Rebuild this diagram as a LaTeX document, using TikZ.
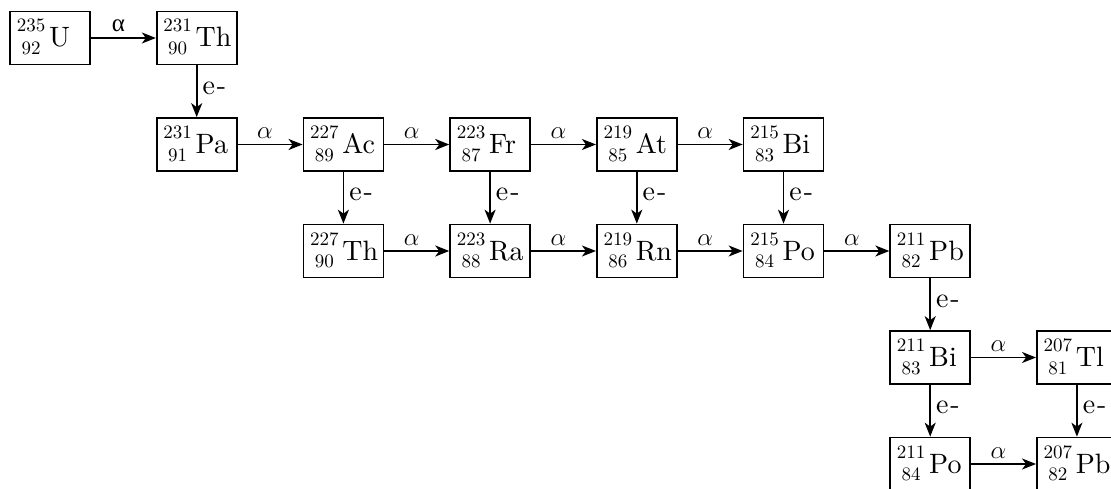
\documentclass[tikz,border=0pt]{standalone}
\usepackage{fontspec}
% the 10pt design of Latin Modern keeps its heavier strokes at large sizes
\setmainfont{lmroman10-regular.otf}
\newfontfamily\grkfont{Liberation Serif}
\usetikzlibrary{arrows.meta}

% font sizes for element symbols and mass/atomic numbers
\newcommand{\symsize}{\fontsize{28}{31}\selectfont}
\newcommand{\numsize}{\fontsize{19}{22}\selectfont}
% nuclide: mass number above, atomic number below, then the symbol,
% set in a fixed-width line so every box has the same size
\newcommand{\nuc}[3]{\makebox[66pt][l]{%
  \makebox[0pt][l]{\raisebox{15pt}{\makebox[28pt][c]{\numsize #1}}}%
  \raisebox{-7.8pt}{\makebox[28pt][c]{\numsize #2}}\hspace{4pt}#3}}

\tikzset{
  nucbox/.style={draw, line width=1.7pt,
    inner xsep=7pt, inner ysep=0pt, text height=35.5pt, text depth=17.5pt,
    font=\symsize},
  decay/.style={line width=1.7pt, -{Stealth[length=14pt, width=11pt, inset=4pt]}},
  alab/.style={above, inner sep=0pt, yshift=5pt, xshift=-5pt,
    font=\fontsize{25}{28}\selectfont},
  elab/.style={right, inner xsep=5pt, inner ysep=0pt, yshift=3pt, font=\symsize},
}

\begin{document}
\begin{tikzpicture}[x=1pt, y=1pt]
\useasboundingbox (0,0) rectangle (1111,-489);
\clip (0,0) rectangle (1111,-489);

% row 1
\node[nucbox] (U235)  at (50,-38)    {\nuc{235}{92}{U}};
\node[nucbox] (Th231) at (196.7,-38) {\nuc{231}{90}{Th}};
% row 2
\node[nucbox] (Pa231) at (196.7,-144.5) {\nuc{231}{91}{Pa}};
\node[nucbox] (Ac227) at (343.4,-144.5) {\nuc{227}{89}{Ac}};
\node[nucbox] (Fr223) at (490.1,-144.5) {\nuc{223}{87}{Fr}};
\node[nucbox] (At219) at (636.8,-144.5) {\nuc{219}{85}{At}};
\node[nucbox] (Bi215) at (783.5,-144.5) {\nuc{215}{83}{Bi}};
% row 3
\node[nucbox] (Th227) at (343.4,-251) {\nuc{227}{90}{Th}};
\node[nucbox] (Ra223) at (490.1,-251) {\nuc{223}{88}{Ra}};
\node[nucbox] (Rn219) at (636.8,-251) {\nuc{219}{86}{Rn}};
\node[nucbox] (Po215) at (783.5,-251) {\nuc{215}{84}{Po}};
\node[nucbox] (Pb211) at (930.2,-251) {\nuc{211}{82}{Pb}};
% rows 4 and 5
\node[nucbox] (Bi211) at (930.2,-357.5)  {\nuc{211}{83}{Bi}};
\node[nucbox] (Tl207) at (1076.9,-357.5) {\nuc{207}{81}{Tl}};
\node[nucbox] (Po211) at (930.2,-464)    {\nuc{211}{84}{Po}};
\node[nucbox] (Pb207) at (1076.9,-464)   {\nuc{207}{82}{Pb}};

% alpha decays
\draw[decay] (U235)  -- node[alab]{\grkfont α} (Th231);
\draw[decay] (Pa231) -- node[alab]{$\alpha$} (Ac227);
\draw[decay] (Ac227) -- node[alab]{$\alpha$} (Fr223);
\draw[decay] (Fr223) -- node[alab]{$\alpha$} (At219);
\draw[decay] (At219) -- node[alab]{$\alpha$} (Bi215);
\draw[decay] (Th227) -- node[alab]{$\alpha$} (Ra223);
\draw[decay] (Ra223) -- node[alab]{$\alpha$} (Rn219);
\draw[decay] (Rn219) -- node[alab]{$\alpha$} (Po215);
\draw[decay] (Po215) -- node[alab]{$\alpha$} (Pb211);
\draw[decay] (Bi211) -- node[alab]{$\alpha$} (Tl207);
\draw[decay] (Po211) -- node[alab]{$\alpha$} (Pb207);

% beta decays
\draw[decay] (Th231) -- node[elab]{e\kern2pt-} (Pa231);
\draw[decay] (Ac227) -- node[elab]{e\kern2pt-} (Th227);
\draw[decay] (Fr223) -- node[elab]{e\kern2pt-} (Ra223);
\draw[decay] (At219) -- node[elab]{e\kern2pt-} (Rn219);
\draw[decay] (Bi215) -- node[elab]{e\kern2pt-} (Po215);
\draw[decay] (Pb211) -- node[elab]{e\kern2pt-} (Bi211);
\draw[decay] (Bi211) -- node[elab]{e\kern2pt-} (Po211);
\draw[decay] (Tl207) -- node[elab]{e\kern2pt-} (Pb207);
\end{tikzpicture}
\end{document}
